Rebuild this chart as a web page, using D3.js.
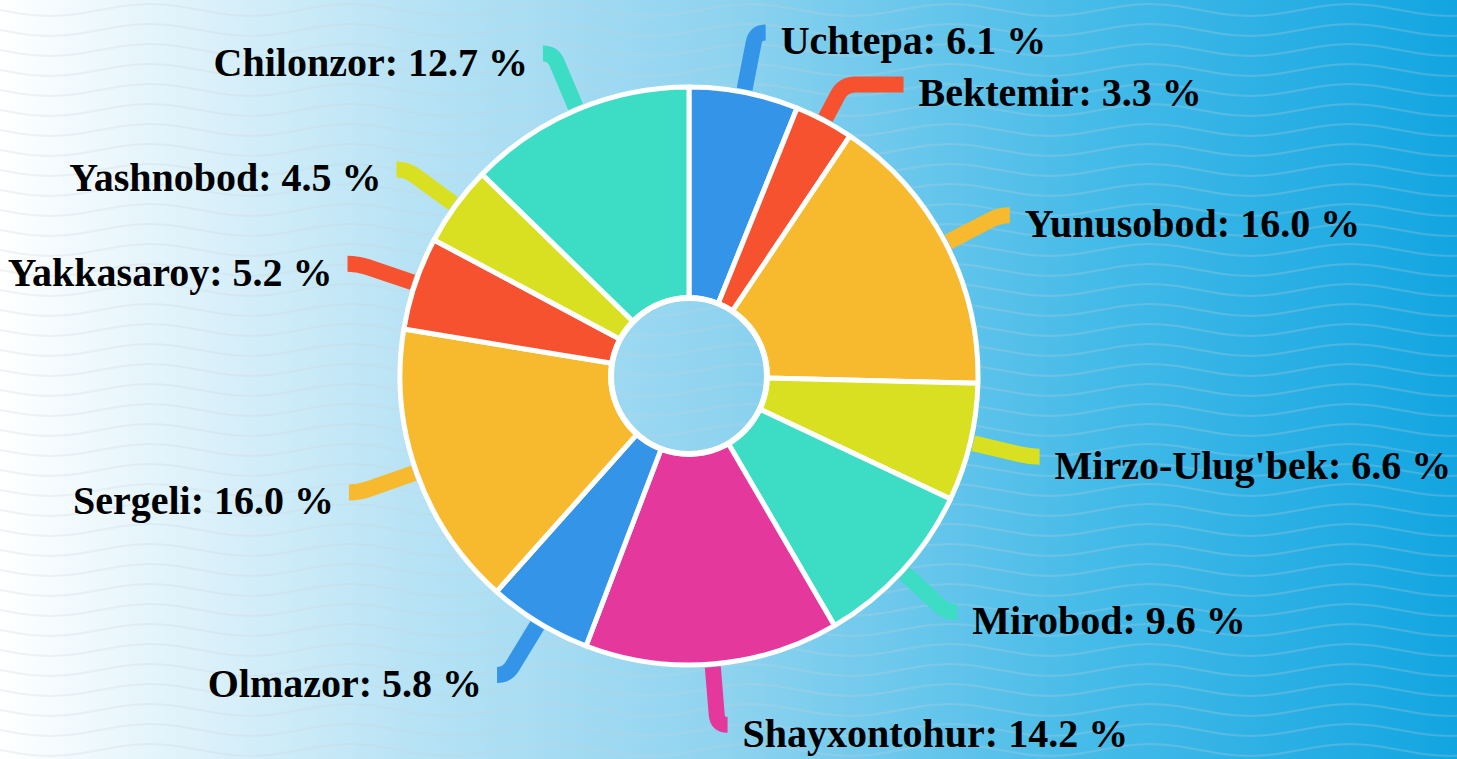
<!DOCTYPE html>
<html>
<head>
<meta charset="utf-8">
<script src="https://cdn.jsdelivr.net/npm/d3@7"></script>
<style>
  html, body { margin: 0; padding: 0; overflow: hidden; }
  svg { display: block; }
  .label { font-family: "Liberation Serif", "Times New Roman", serif; font-weight: bold; font-size: 40px; fill: #000; }
</style>
</head>
<body>
<svg id="chart"></svg>
<script>
/* ---------- Data ---------- */
const districts = ["Uchtepa", "Bektemir", "Yunusobod", "Mirzo-Ulug'bek", "Mirobod", "Shayxontohur",
                   "Olmazor", "Sergeli", "Yakkasaroy", "Yashnobod", "Chilonzor"];
const shares = [6.1, 3.3, 16.0, 6.6, 9.6, 14.2, 5.8, 16.0, 5.2, 4.5, 12.7];
const colors = ["#3394e8", "#f7522f", "#f7b92d", "#d8e021", "#3ddcc4", "#e5389c",
                "#3394e8", "#f7b92d", "#f7522f", "#d8e021", "#3ddcc4"];

/* ---------- Layout ---------- */
const W = 1457, H = 759;
const cx = 689, cy = 376;
const rOuter = 289, rInner = 78;
const labelR = 362;      // circle the label anchors sit on
const tail = 10;         // short horizontal end of a connector
const minGap = 52;       // vertical spacing between labels on one side

const svg = d3.select("#chart").attr("width", W).attr("height", H);
const defs = svg.append("defs");

const grad = defs.append("linearGradient").attr("id", "bg").attr("x1", 0).attr("x2", 1).attr("y1", 0).attr("y2", 0);
[[0, "#ffffff"], [0.28, "#b8e3f5"], [0.5, "#8ed3ef"], [0.75, "#45bbe8"], [1, "#12a5e1"]]
    .forEach(([o, c]) => grad.append("stop").attr("offset", o).attr("stop-color", c));

// wavy line texture
const pat = defs.append("pattern").attr("id", "waves").attr("patternUnits", "userSpaceOnUse")
    .attr("width", 200).attr("height", 20);
pat.append("path")
    .attr("d", d3.line().curve(d3.curveBasis)(d3.range(0, 201, 10).map(x => [x, 10 + 6 * Math.sin(x / 200 * 2 * Math.PI)])))
    .attr("fill", "none").attr("stroke", "rgba(200,208,216,0.25)").attr("stroke-width", 2);

svg.append("rect").attr("width", W).attr("height", H).attr("fill", "url(#bg)");
svg.append("rect").attr("width", W).attr("height", H).attr("fill", "url(#waves)");

/* ---------- Pie ---------- */
const rows = districts.map((name, i) => ({name, value: shares[i], color: colors[i]}));
const arcs = d3.pie().sort(null).value(d => d.value)(rows);
const arc = d3.arc().innerRadius(rInner).outerRadius(rOuter);

const g = svg.append("g").attr("transform", `translate(${cx},${cy})`);

/* ---------- Connectors & labels ---------- */
const edgeR = rOuter + 3;
const maxLen = labelR - 12 - edgeR;

const items = arcs.map(a => {
    const ang = (a.startAngle + a.endAngle) / 2;
    const dir = [Math.sin(ang), -Math.cos(ang)];
    const side = dir[0] >= 0 ? 1 : -1;
    return {a, ang, dir, side, y: -labelR * Math.cos(ang)};
});

function place(it) {
    const p0 = [edgeR * it.dir[0], edgeR * it.dir[1]];
    const t = Math.abs(it.dir[1]) > 1e-6 ? (it.y - p0[1]) / it.dir[1] : Infinity;
    let c, e;
    if (t > maxLen || t < 0) {
        c = [p0[0] + maxLen * it.dir[0], p0[1] + maxLen * it.dir[1]];
        e = [c[0] + it.side * tail, c[1]];
    } else {
        c = [p0[0] + t * it.dir[0], it.y];
        e = [it.side * Math.sqrt(labelR * labelR - it.y * it.y), it.y];
    }
    Object.assign(it, {p0, c, e});
}

// push labels down on each side so they do not collide
[1, -1].forEach(side => {
    const list = items.filter(d => d.side === side).sort((p, q) => p.y - q.y);
    let prev = -Infinity;
    list.forEach(it => {
        place(it);
        if (it.e[1] < prev + minGap) {
            it.y = prev + minGap;
            place(it);
        }
        prev = it.e[1];
    });
});

function connector(it) {
    const {p0, c, e, side} = it;
    const lenA = Math.hypot(c[0] - p0[0], c[1] - p0[1]);
    const lenB = Math.abs(e[0] - c[0]);
    const k = Math.min(12, lenA * 0.5, lenB);
    const path = d3.path();
    path.moveTo(p0[0], p0[1]);
    if (k > 0.5) {
        path.lineTo(c[0] - it.dir[0] * k, c[1] - it.dir[1] * k);
        path.quadraticCurveTo(c[0], c[1], c[0] + side * k, c[1]);
    } else {
        path.lineTo(c[0], c[1]);
    }
    path.lineTo(e[0], e[1]);
    return path.toString();
}

g.append("g").selectAll("path")
    .data(items)
    .join("path")
    .attr("d", connector)
    .attr("fill", "none")
    .attr("stroke", d => d.a.data.color)
    .attr("stroke-width", 16);

g.append("g").selectAll("path")
    .data(arcs)
    .join("path")
    .attr("d", arc)
    .attr("fill", d => d.data.color)
    .attr("stroke", "#fff")
    .attr("stroke-width", 5)
    .attr("stroke-linejoin", "round");

g.append("circle").attr("r", rInner).attr("fill", "none").attr("stroke", "#fff").attr("stroke-width", 6);

g.append("g").selectAll("text")
    .data(items)
    .join("text")
    .attr("class", "label")
    .attr("x", d => d.e[0] + d.side * 15)
    .attr("y", d => d.e[1] + 22)
    .attr("text-anchor", d => d.side > 0 ? "start" : "end")
    .text(d => `${d.a.data.name}: ${d.a.data.value.toFixed(1)} %`);
</script>
</body>
</html>
